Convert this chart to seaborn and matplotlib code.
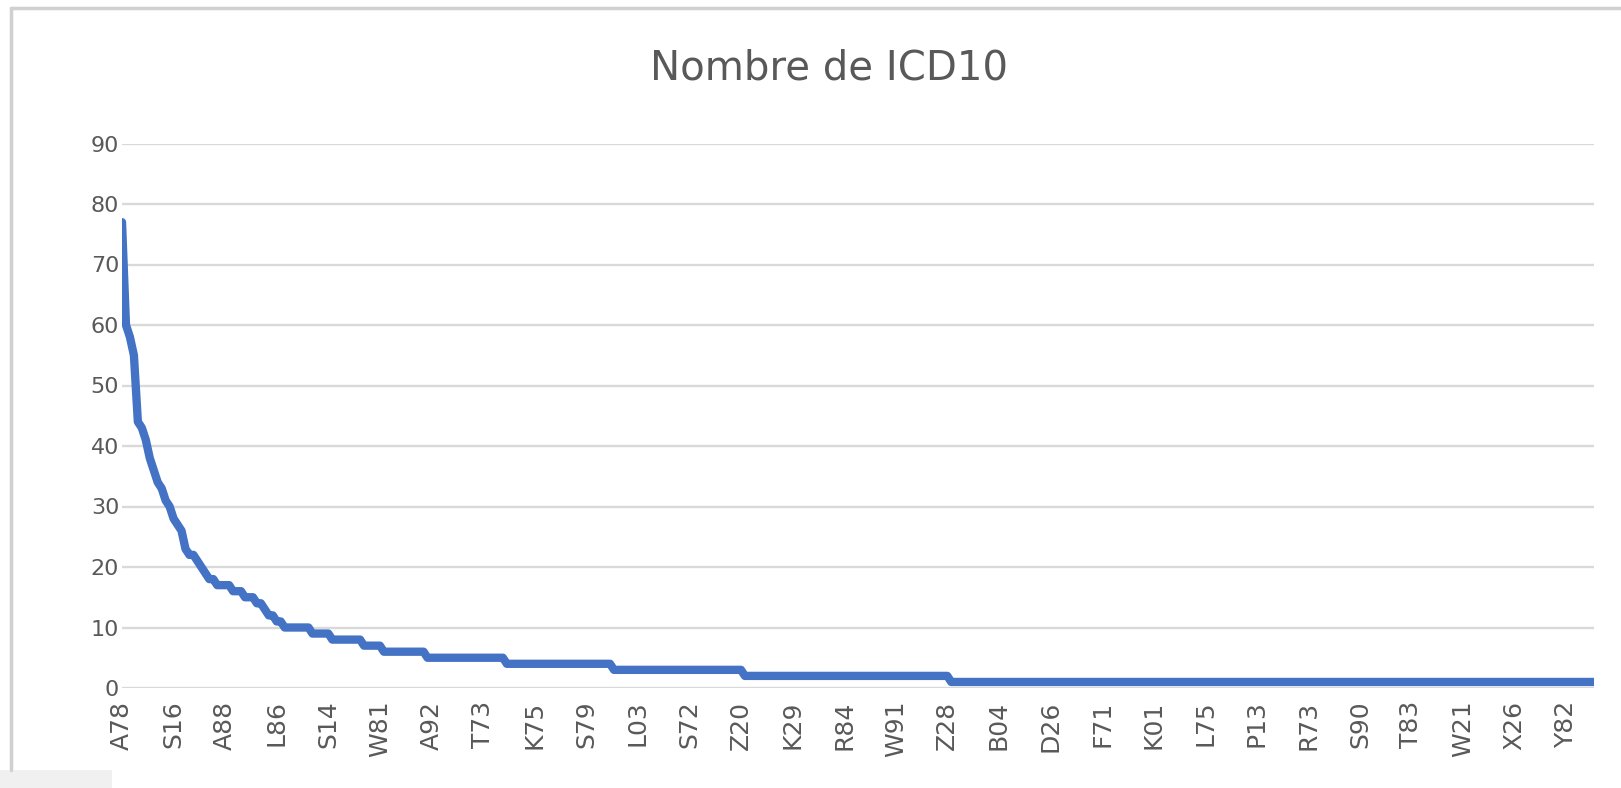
import numpy as np
import pandas as pd
import matplotlib
matplotlib.use("Agg")
import matplotlib.pyplot as plt
import seaborn as sns
from matplotlib.patches import Rectangle
from matplotlib.lines import Line2D

# counts sorted descending
head_values = [77, 60, 58, 55, 44, 43, 41, 38, 36, 34, 33, 31, 30, 28, 27, 26,
               23, 22, 22, 21, 20, 19, 18, 18, 17, 17, 17, 17, 16, 16, 16, 15,
               15, 15, 14, 14, 13, 12, 12, 11, 11]
# plateaus in the long tail: level and how many codes sit on it
tail_levels = [10, 9, 8, 7, 6, 5, 4, 3, 2, 1]
tail_counts = [7, 5, 8, 5, 11, 20, 27, 33, 52, 163]

tick_labels = ["A78", "S16", "A88", "L86", "S14", "W81", "A92", "T73", "K75",
               "S79", "L03", "S72", "Z20", "K29", "R84", "W91", "Z28", "B04",
               "D26", "F71", "K01", "L75", "P13", "R73", "S90", "T83", "W21",
               "X26", "Y82"]
tick_step = 13

values = np.concatenate([head_values, np.repeat(tail_levels, tail_counts)])
df = pd.DataFrame({"pos": np.arange(len(values)), "n": values})

sns.set_style("white")
plt.rcParams['font.family'] = ['DejaVu Sans']

W, H = 1621, 788
fig = plt.figure(figsize=(W / 100, H / 100), dpi=100)
ax = fig.add_axes([122 / W, 1 - 688 / H, (1594 - 122) / W, (688 - 143.5) / H])

txt = "#595959"
grid = "#d9d9d9"

for v in range(0, 91, 10):
    ax.axhline(v, color=grid, lw=1.7, zorder=0)

sns.lineplot(data=df, x="pos", y="n", ax=ax, color="#4472C4", linewidth=6,
             solid_joinstyle="round", solid_capstyle="round")

ax.set_xlim(0, len(values) - 1)
ax.set_ylim(0, 90)
ax.set_yticks(range(0, 91, 10))
ax.set_xticks(range(0, len(values), tick_step))
ax.set_xticklabels(tick_labels, rotation=90)
ax.tick_params(axis="y", length=0, pad=2, labelsize=16, labelcolor=txt)
ax.tick_params(axis="x", length=0, pad=9, labelsize=18, labelcolor=txt)
ax.set_xlabel("")
ax.set_ylabel("")
for s in ax.spines.values():
    s.set_visible(False)

fig.text(829 / W, 1 - 68 / H, "Nombre de ICD10", fontsize=29, color=txt,
         ha="center", va="center")

# chart-area frame: only the top and left edges show, plus grey corner
frame = "#d0d0d0"
fig.add_artist(Line2D([11 / W, 1], [1 - 8 / H, 1 - 8 / H],
                      transform=fig.transFigure, color=frame, lw=2.5))
fig.add_artist(Line2D([11 / W, 11 / W], [1 - 8 / H, 1 - 770 / H],
                      transform=fig.transFigure, color=frame, lw=2.5))
fig.add_artist(Rectangle((0, 0), 112 / W, 18 / H, transform=fig.transFigure,
                         facecolor="#f0f0f0", edgecolor="none"))

fig.savefig("out.png", dpi=100)
